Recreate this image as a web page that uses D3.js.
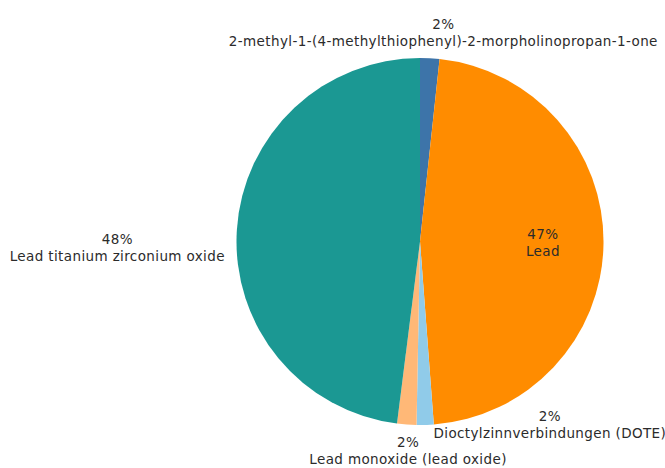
<!DOCTYPE html>
<html>
<head>
<meta charset="utf-8">
<script src="https://cdn.jsdelivr.net/npm/d3@7"></script>
<style>
  body { margin:0; background:#fff; }
  text { font-family:'DejaVu Sans', Verdana, sans-serif; font-size:13.5px; letter-spacing:0.38px; fill:#2b2b2b; }
</style>
</head>
<body>
<div id="plot"></div>
<script>
// substances and their share (in %), clockwise from 12 o'clock
var substances = [
	'2-methyl-1-(4-methylthiophenyl)-2-morpholinopropan-1-one',
	'Lead',
	'Dioctylzinnverbindungen (DOTE)',
	'Lead monoxide (lead oxide)',
	'Lead titanium zirconium oxide'
];
var shares = [1.7, 47.1, 1.5, 1.7, 48.0];
var colours = ['#3d74a9', '#ff8c00', '#90cbe9', '#ffb877', '#1b9893'];

var W = 665, H = 468,
	cx = 420, cy = 241.5,
	r = 183.5;

// where each label block sits relative to its slice (inside / outside + nudges)
// anchor says which side of the block touches the point
var labelLayout = [
	{inside:false, anchor:'middle', dx:13,  dy:-15},
	{inside:true,  anchor:'middle', dx:0,   dy:0},
	{inside:false, anchor:'start',  dx:8,   dy:-9},
	{inside:false, anchor:'middle', dx:2,   dy:17.5},
	{inside:false, anchor:'end',    dx:-2,  dy:19}
];

var svg = d3.select('#plot')
	.append('svg')
	.attr('width', W)
	.attr('height', H);

var g = svg.append('g')
	.attr('transform', 'translate(' + cx + ',' + cy + ')');

var data = substances.map(function(s, i){ return {name:s, value:shares[i], i:i}; });
var total = d3.sum(shares);

var pie = d3.pie().sort(null).value(function(d){ return d.value; });
var arc = d3.arc().innerRadius(0).outerRadius(r);
var outer = d3.arc().innerRadius(r + 10).outerRadius(r + 10);
var inner = d3.arc().innerRadius(r * 0.67).outerRadius(r * 0.67);

var arcs = pie(data);

g.selectAll('path')
	.data(arcs)
	.enter().append('path')
	.attr('d', arc)
	.style('fill', function(d){ return colours[d.data.i]; });

var lh = 17;
arcs.forEach(function(d){
	var lay = labelLayout[d.data.i];
	var p = lay.inside ? inner.centroid(d) : outer.centroid(d);
	var t = g.append('text')
		.attr('text-anchor', 'middle');
	t.append('tspan')
		.attr('x', 0).attr('y', -lh / 2 + 4)
		.text(Math.round(d.data.value / total * 100) + '%');
	var name = t.append('tspan')
		.attr('x', 0).attr('y', lh / 2 + 4)
		.text(d.data.name);
	// block is centred; shift it so the chosen side touches the anchor point
	var w = name.node().getComputedTextLength();
	var shift = lay.anchor == 'start' ? w / 2 : (lay.anchor == 'end' ? -w / 2 : 0);
	t.attr('transform', 'translate(' + (p[0] + lay.dx + shift) + ',' + (p[1] + lay.dy) + ')');
});
</script>
</body>
</html>
